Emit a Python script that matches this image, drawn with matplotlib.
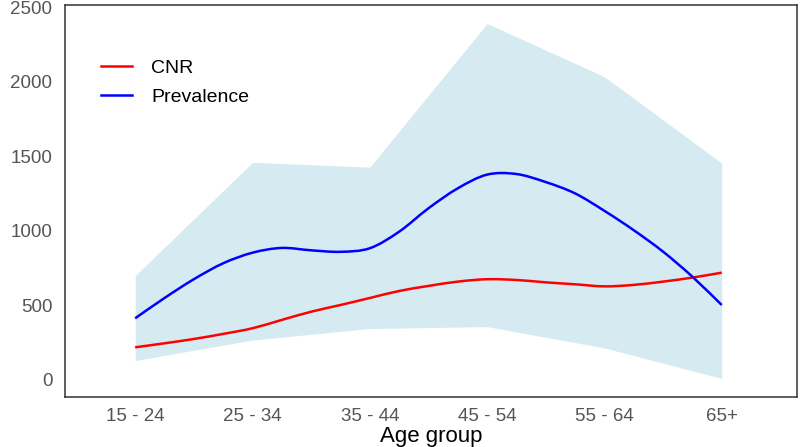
import numpy as np
import matplotlib.pyplot as plt
from matplotlib.path import Path
from matplotlib.patches import PathPatch
from matplotlib.lines import Line2D

# age groups and the shaded band (lower / upper bound per group)
age_groups = ['15 - 24', '25 - 34', '35 - 44', '45 - 54', '55 - 64', '65+']
band_lower = [130, 268, 345, 358, 215, 10]
band_upper = [700, 1460, 1428, 2392, 2035, 1455]

# smoothed curves every quarter age group
curve_x = np.linspace(0, 5, 21)
cnr = [219, 246, 275, 309, 347, 403, 458, 503, 550, 597, 631, 660, 676,
       671, 655, 642, 628, 638, 660, 687, 720]
prevalence = [414, 550, 676, 783, 854, 886, 870, 860, 884, 995, 1152, 1286,
              1378, 1382, 1328, 1252, 1135, 1005, 861, 693, 503]


def smooth_path(xs, ys):
    # catmull-rom through the read points, drawn as cubic bezier segments
    p = np.column_stack([xs, ys]).astype(float)
    verts = [p[0]]
    codes = [Path.MOVETO]
    for i in range(len(p) - 1):
        p0 = p[i - 1] if i > 0 else p[i]
        p3 = p[i + 2] if i + 2 < len(p) else p[i + 1]
        c1 = p[i] + (p[i + 1] - p0) / 6
        c2 = p[i + 1] - (p3 - p[i]) / 6
        verts += [c1, c2, p[i + 1]]
        codes += [Path.CURVE4] * 3
    return Path(verts, codes)


plt.rcParams['font.family'] = ['Liberation Sans', 'DejaVu Sans']

fig = plt.figure(figsize=(8, 4.47), dpi=100)
ax = fig.add_axes([0.081, 0.112, 0.915, 0.877])

x = np.arange(len(age_groups))
ax.fill_between(x, band_lower, band_upper, color='#d6eaf1', linewidth=0)
for ys, col in [(cnr, '#ff0000'), (prevalence, '#0000ff')]:
    ax.add_patch(PathPatch(smooth_path(curve_x, ys), facecolor='none',
                           edgecolor=col, lw=1.8))

ax.set_xlim(-0.6, 5.64)
ax.set_ylim(-114, 2517)
ax.set_xticks(x)
ax.set_xticklabels(age_groups)
ax.set_yticks([0, 500, 1000, 1500, 2000, 2500])
ax.tick_params(length=0, labelsize=13.5, colors='#555555')
ax.tick_params(axis='y', pad=9)
ax.tick_params(axis='x', pad=8)
ax.set_xlabel('Age group', fontsize=16, color='black', labelpad=1)

for s in ax.spines.values():
    s.set_color('#333333')
    s.set_linewidth(1.1)

handles = [Line2D([], [], color='#ff0000', lw=1.8),
           Line2D([], [], color='#0000ff', lw=1.8)]
ax.legend(handles, ['CNR', 'Prevalence'], loc='upper left',
          bbox_to_anchor=(0.025, 0.905), frameon=False, fontsize=14,
          handlelength=1.6, labelspacing=0.55, handletextpad=1.0)

fig.savefig('out.png', dpi=100)
